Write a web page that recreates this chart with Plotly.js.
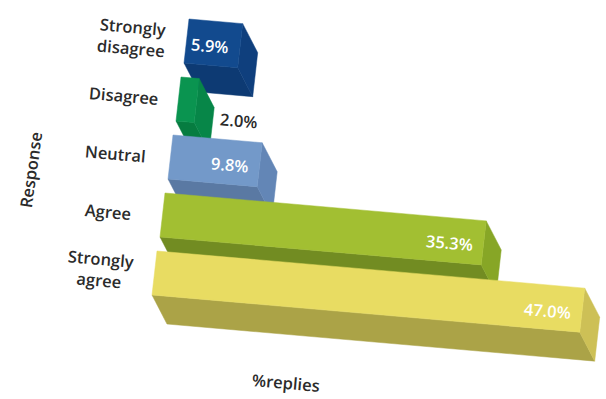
<!DOCTYPE html>
<html><head><meta charset="utf-8">
<script src="https://cdn.plot.ly/plotly-3.0.1.min.js"></script>
<style>html,body{margin:0;padding:0;background:#fff}#chart{width:606px;height:399px}</style>
</head><body><div id="chart"></div>
<script>
// Data (top to bottom)
var categories = ["Strongly<br>disagree", "Disagree", "Neutral", "Agree", "Strongly<br>agree"];
var values = [5.9, 2.0, 9.8, 35.3, 47.0];
var valueLabels = ["5.9%", "2.0%", "9.8%", "35.3%", "47.0%"];
var frontColors = ["#124a8e", "#0a9450", "#7399c9", "#a2bf32", "#e8dc62"];
var sideColors  = ["#0f3f7d", "#078648", "#6386b6", "#87a626", "#cdc056"];
var bottomColors= ["#0d3a73", "#067c40", "#5a79a3", "#728c22", "#aba347"];
var labelInside = [true, false, true, true, true];

// Oblique projection: value v (%), category index c, height fraction h, depth fraction d
// axis units: x = percent (9.1 px per %), y = category step (58 px)
var PXV = 9.1, PYC = 58;
function P(v, c, h, d) {
  return [v + (-8 * c - 5 * h + 15 * d) / PXV,
          c + (0.79 * v + 44 * h + 29 * d) / PYC];
}
function poly(pts, color) {
  var xs = [], ys = [];
  pts.forEach(function (p) { xs.push(p[0]); ys.push(p[1]); });
  xs.push(pts[0][0]); ys.push(pts[0][1]);
  return {type: 'scatter', mode: 'lines', x: xs, y: ys, fill: 'toself',
          fillcolor: color, line: {color: color, width: 0.5}, hoverinfo: 'skip', showlegend: false};
}
var traces = [];
var annotations = [];
var labFont = {family: "Open Sans, sans-serif", size: 16.5, color: "#2b2b2b", weight: 600};
values.forEach(function (v, c) {
  traces.push(poly([P(0, c, 1, 0), P(v, c, 1, 0), P(v, c, 1, 1), P(0, c, 1, 1)], bottomColors[c]));
  traces.push(poly([P(v, c, 0, 0), P(v, c, 0, 1), P(v, c, 1, 1), P(v, c, 1, 0)], sideColors[c]));
  traces.push(poly([P(0, c, 0, 0), P(v, c, 0, 0), P(v, c, 1, 0), P(0, c, 1, 0)], frontColors[c]));
  var lp = P(0, c, 0.5, 0);
  annotations.push({x: lp[0], y: lp[1], xref: 'x', yref: 'y', text: categories[c], showarrow: false,
    xanchor: 'center', yanchor: 'middle', xshift: -55, yshift: 4, textangle: 5, font: labFont, align: 'center'});
  if (labelInside[c]) {
    var vp = P(v, c, 0.5, 0);
    annotations.push({x: vp[0], y: vp[1], xref: 'x', yref: 'y', text: valueLabels[c], showarrow: false,
      xanchor: 'right', yanchor: 'middle', xshift: -8, textangle: 5,
      font: {family: "Open Sans, sans-serif", size: 16.5, color: "#ffffff", weight: 600}});
  } else {
    var op = P(v, c, 0.5, 0.7);
    annotations.push({x: op[0], y: op[1], xref: 'x', yref: 'y', text: valueLabels[c], showarrow: false,
      xanchor: 'left', yanchor: 'middle', xshift: 10, textangle: 5, font: labFont});
  }
});
annotations.push({xref: 'paper', yref: 'paper', x: 30 / 606, y: 1 - 170 / 399, text: "Response", showarrow: false,
  textangle: -82, xanchor: 'center', yanchor: 'middle', font: labFont});
annotations.push({xref: 'paper', yref: 'paper', x: 286 / 606, y: 1 - 382 / 399, text: "%replies", showarrow: false,
  textangle: 5, xanchor: 'center', yanchor: 'middle', font: labFont});

var layout = {
  width: 606, height: 399, margin: {l: 0, r: 0, t: 0, b: 0},
  paper_bgcolor: '#ffffff', plot_bgcolor: '#ffffff',
  xaxis: {range: [-189 / PXV, 417 / PXV], visible: false, fixedrange: true},
  yaxis: {range: [380 / PYC, -19 / PYC], visible: false, fixedrange: true},
  annotations: annotations, showlegend: false
};
Plotly.newPlot('chart', traces, layout, {displayModeBar: false, staticPlot: true});
</script></body></html>
